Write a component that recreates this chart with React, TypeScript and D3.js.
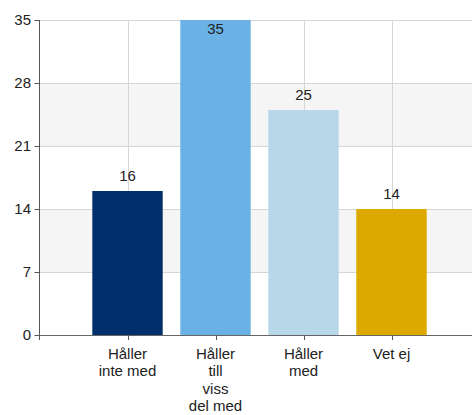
import React from "react";
import * as d3 from "d3";

const categories: string[][] = [
  ["Håller", "inte med"],
  ["Håller", "till", "viss", "del med"],
  ["Håller", "med"],
  ["Vet ej"],
];
const values: number[] = [16, 35, 25, 14];
const colors: string[] = ["#002f6b", "#6ab2e6", "#b8d8ea", "#dba900"];
const yTicks: number[] = [0, 7, 14, 21, 28, 35];

const W = 472;
const H = 415;
const left = 39.5;
const top = 20;
const bottom = 335;
const step = 88;

export default function App() {
  const y = d3.scaleLinear().domain([0, 35]).range([bottom, top]);
  const x = d3.scaleLinear().domain([0, 5]).range([left, left + step * 5]);
  const barW = step * 0.8;
  const font = "Arial, 'Liberation Sans', sans-serif";
  const fs = 15;

  const bands: [number, number][] = [];
  for (let i = 0; i < yTicks.length - 1; i++) {
    if (i % 2 === 1) bands.push([yTicks[i], yTicks[i + 1]]);
  }

  return (
    <svg
      width={W}
      height={H}
      style={{ position: "absolute", left: 0, top: 0, display: "block" }}
      fontFamily={font}
    >
      <rect width={W} height={H} fill="#fff" />
      {bands.map(([a, b], i) => (
        <rect key={i} x={left} y={y(b)} width={W - left} height={y(a) - y(b)} fill="#f5f5f5" />
      ))}
      {yTicks.map((t) => (
        <line key={t} x1={left} x2={W} y1={y(t) + 0.5} y2={y(t) + 0.5} stroke="#d6d6d6" strokeWidth={1} />
      ))}
      {values.map((_, i) => (
        <line
          key={i}
          x1={Math.round(x(i + 1)) + 0.5}
          x2={Math.round(x(i + 1)) + 0.5}
          y1={top}
          y2={bottom}
          stroke="#d6d6d6"
        />
      ))}
      {values.map((v, i) => (
        <rect
          key={i}
          x={x(i + 1) - barW / 2}
          y={y(v)}
          width={barW}
          height={bottom - y(v)}
          fill={colors[i]}
        />
      ))}
      {values.map((v, i) => {
        const ly = Math.max(y(v) - 10.5, top + 14);
        return (
          <text key={i} x={x(i + 1)} y={ly} textAnchor="middle" fontSize={fs} fill="#222">
            {v}
          </text>
        );
      })}
      {/* y axis */}
      <line x1={left} x2={left} y1={top} y2={bottom + 5} stroke="#555" />
      {yTicks.map((t) => (
        <g key={t}>
          <line x1={left - 5} x2={left} y1={y(t) + 0.5} y2={y(t) + 0.5} stroke="#555" />
          <text x={31} y={y(t) + 4.5} textAnchor="end" fontSize={fs} fill="#222">
            {t}
          </text>
        </g>
      ))}
      {/* x axis */}
      <line x1={left} x2={W} y1={bottom + 0.5} y2={bottom + 0.5} stroke="#666" />
      {categories.map((lines, i) => (
        <g key={i}>
          <line
            x1={Math.round(x(i + 1)) + 0.5}
            x2={Math.round(x(i + 1)) + 0.5}
            y1={bottom}
            y2={bottom + 5}
            stroke="#555"
          />
          <text x={x(i + 1)} textAnchor="middle" fontSize={fs} fill="#222">
            {lines.map((l, j) => (
              <tspan key={j} x={x(i + 1)} y={359 + j * 17.4}>
                {l}
              </tspan>
            ))}
          </text>
        </g>
      ))}
    </svg>
  );
}
